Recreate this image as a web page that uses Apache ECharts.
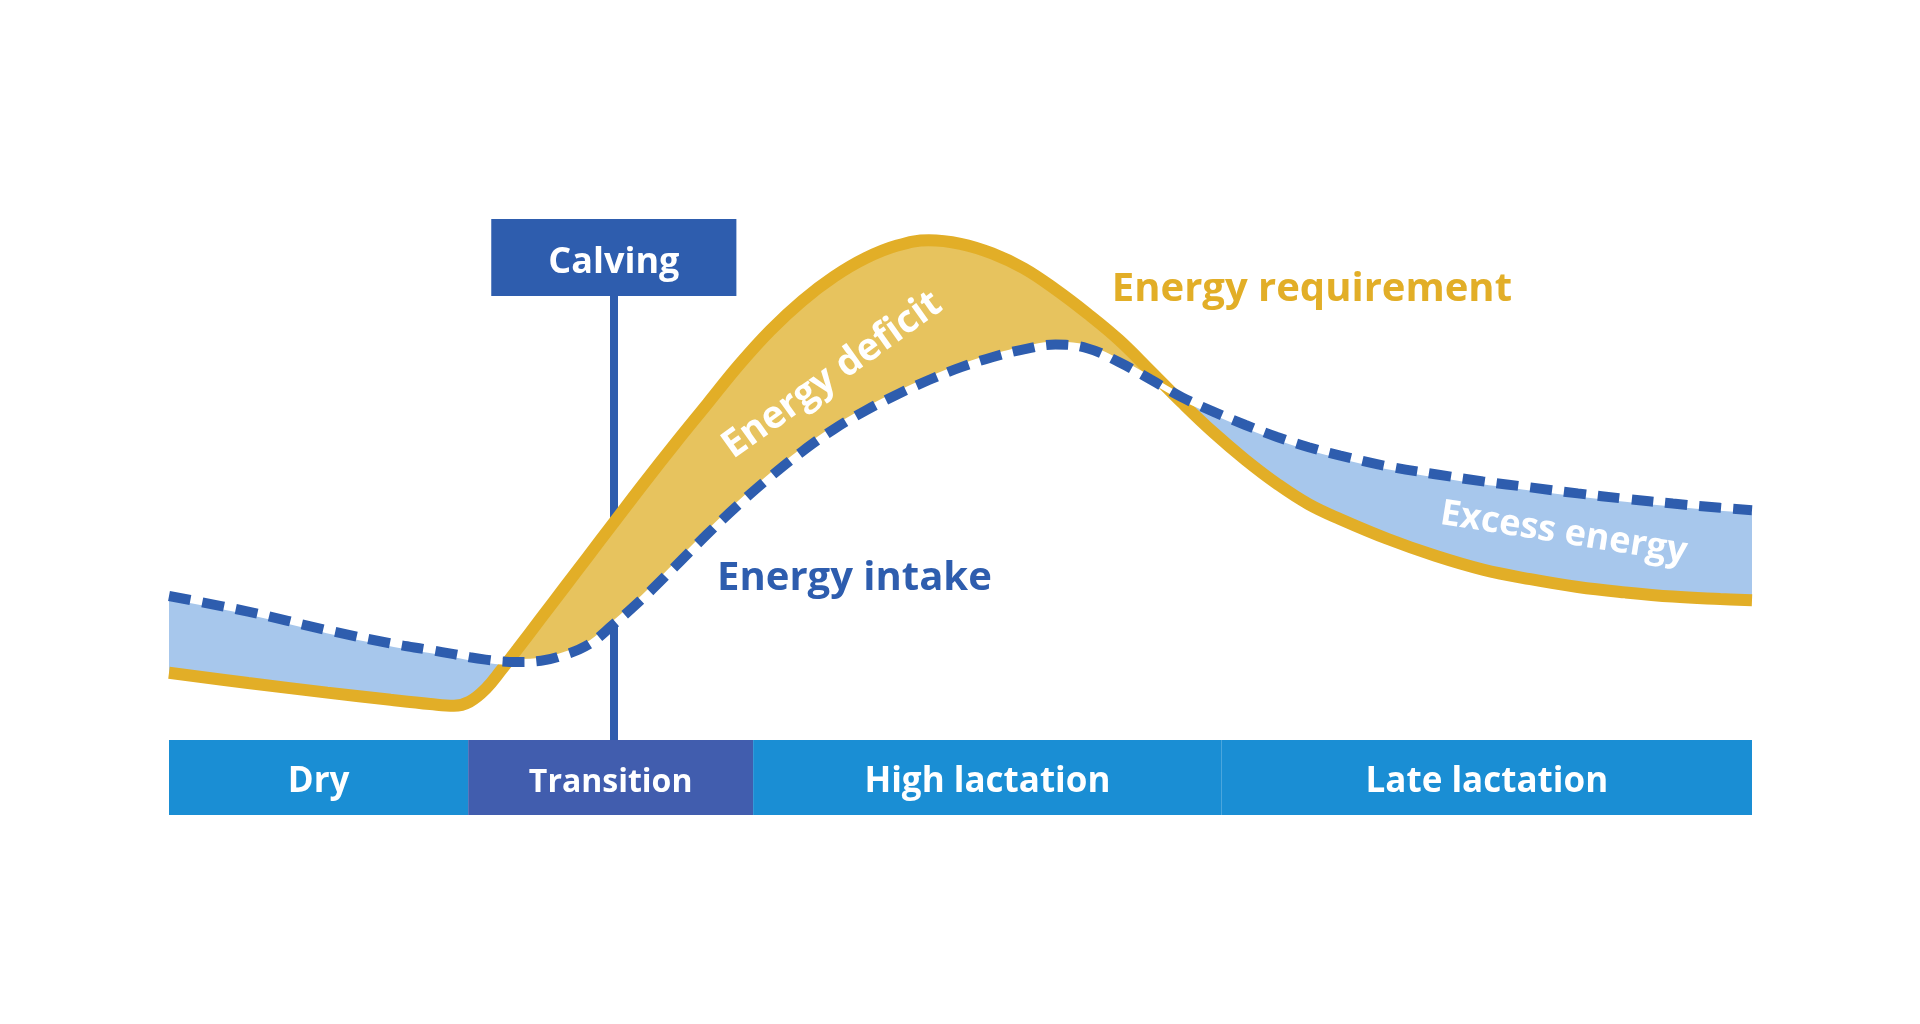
<!DOCTYPE html>
<html>
<head>
<meta charset="utf-8">
<title>Energy requirement vs energy intake</title>
<script src="https://cdn.jsdelivr.net/npm/echarts@6/dist/echarts.min.js"></script>
<style>
  html, body { margin: 0; padding: 0; background: #fff; }
  #chart { width: 1920px; height: 1024px; }
</style>
</head>
<body>
<div id="chart"></div>
<script>
// position along the cycle, 0 = start of dry period, 100 = end of late lactation
const timeline = [0, 5, 10, 14, 16.5, 18, 19, 20, 21, 22, 23.5, 25, 26.5, 28, 30, 32, 34, 36, 38, 40,
  42, 44, 46, 48, 50, 52, 54, 56, 58, 60, 62, 64, 66, 68, 70, 72, 74, 77, 80, 83, 86, 89, 92, 95, 98, 100];
// relative energy level
const requirement = [23.7, 22.0, 20.4, 19.2, 18.5, 18.2, 18.9, 21.0, 24.2, 27.6, 32.8, 38.0, 43.2, 48.4, 55.3, 62.0, 68.5, 75.0, 80.8, 85.7,
  89.7, 92.8, 94.9, 95.8, 95.2, 93.6, 91.1, 87.6, 83.6, 79.2, 74.0, 68.7, 63.7, 59.2, 55.2, 51.8, 49.3, 46.0, 43.2, 40.9, 39.3, 38.0, 37.1, 36.4, 36.0, 35.8];
const intake = [36.5, 33.9, 30.8, 28.6, 27.5, 26.8, 26.3, 25.9, 25.6, 25.5, 25.7, 26.7, 28.4, 31.6, 36.3, 41.5, 46.8, 51.8, 56.4, 60.6,
  64.3, 67.4, 70.1, 72.5, 74.6, 76.3, 77.6, 78.4, 77.8, 75.5, 72.6, 69.6, 67.2, 65.0, 63.0, 61.3, 59.9, 58.1, 56.8, 55.6, 54.6, 53.6, 52.7, 51.9, 51.2, 50.8];

const phaseNames = ['Dry', 'Transition', 'High lactation', 'Late lactation'];
const phaseStart = [0, 18.9, 36.9, 66.5];
const phaseEnd = [18.9, 36.9, 66.5, 100];
const calvingAt = 28.1;
// where the calving line meets the intake and requirement curves
const calvingIntake = 31.8;
const calvingRequirement = 48.6;

const BLUE = '#2E5DAE';
const GOLD = '#E2AE27';
const BAR_TOP = 12.5;
const BOX_BOTTOM = 86.5;

const pairs = (values) => timeline.map((x, i) => [x, values[i]]);
const lowerOfTwo = timeline.map((x, i) => [x, Math.min(requirement[i], intake[i])]);

const textFont = { fontFamily: 'Open Sans', fontWeight: 'bold', textBorderWidth: 0, opacity: 1 };

const chart = echarts.init(document.getElementById('chart'));

chart.setOption({
  animation: false,
  backgroundColor: '#ffffff',
  grid: { left: 169, right: 168, top: 215, bottom: 209 },
  xAxis: { type: 'value', min: 0, max: 100, show: false },
  yAxis: { type: 'value', min: 0, max: 100, show: false },
  series: [
    {
      // deficit fill: everything under the requirement curve
      name: 'Energy deficit',
      type: 'line',
      smooth: 0.4,
      showSymbol: false,
      silent: true,
      z: 1,
      lineStyle: { opacity: 0 },
      areaStyle: { color: '#E7C35E', opacity: 1, origin: 'start' },
      data: pairs(requirement)
    },
    {
      // excess fill: everything under the intake curve
      name: 'Excess energy',
      type: 'line',
      smooth: 0.4,
      showSymbol: false,
      silent: true,
      z: 2,
      lineStyle: { opacity: 0 },
      areaStyle: { color: '#A7C7EC', opacity: 1, origin: 'start' },
      data: pairs(intake)
    },
    {
      // white under the lower of the two curves, leaves only the band between them
      name: 'mask',
      type: 'line',
      smooth: 0.4,
      showSymbol: false,
      silent: true,
      z: 3,
      lineStyle: { opacity: 0 },
      areaStyle: { color: '#ffffff', opacity: 1, origin: 'start' },
      data: lowerOfTwo,
      markLine: {
        silent: true,
        z: 4,
        symbol: ['none', 'none'],
        lineStyle: { color: BLUE, width: 8, type: 'solid' },
        label: { show: false },
        data: [
          [{ xAxis: calvingAt, yAxis: BAR_TOP }, { xAxis: calvingAt, yAxis: calvingIntake }],
          [
            { xAxis: calvingAt, yAxis: calvingRequirement },
            {
              xAxis: calvingAt,
              yAxis: BOX_BOTTOM,
              label: Object.assign({
                show: true,
                position: 'end',
                distance: 0,
                formatter: 'Calving',
                color: '#fff',
                fontSize: 36,
                lineHeight: 43,
                backgroundColor: BLUE,
                padding: [22, 57, 12, 57]
              }, textFont)
            }
          ]
        ]
      },
      markArea: {
        silent: true,
        z: 9,
        label: Object.assign({ show: true, position: 'inside', color: '#fff', fontSize: 35, offset: [0, 5] }, textFont),
        data: phaseNames.map((name, i) => [
          {
            name: name,
            xAxis: phaseStart[i],
            yAxis: 0,
            itemStyle: { color: name === 'Transition' ? '#415DAE' : '#1A8ED4', opacity: 1 },
            label: name === 'Transition' ? { fontSize: 32 } : {}
          },
          { xAxis: phaseEnd[i], yAxis: BAR_TOP }
        ])
      }
    },
    {
      name: 'Energy requirement',
      type: 'line',
      smooth: 0.4,
      showSymbol: false,
      silent: true,
      z: 5,
      lineStyle: { color: GOLD, width: 12, cap: 'butt' },
      data: pairs(requirement)
    },
    {
      name: 'intake-backing',
      type: 'line',
      smooth: 0.4,
      showSymbol: false,
      silent: true,
      z: 6,
      lineStyle: { color: '#ffffff', width: 6 },
      data: pairs(intake)
    },
    {
      name: 'Energy intake',
      type: 'line',
      smooth: 0.4,
      showSymbol: false,
      silent: true,
      z: 7,
      lineStyle: { color: BLUE, width: 10, type: [22, 12], cap: 'butt' },
      data: pairs(intake)
    },
    {
      name: 'notes',
      type: 'scatter',
      symbolSize: 0,
      silent: true,
      z: 8,
      itemStyle: { opacity: 1 },
      label: Object.assign({ show: true, position: 'inside', formatter: '{b}' }, textFont),
      data: [
        { name: 'Energy requirement', value: [72.2, 87.5], label: { color: GOLD, fontSize: 40 } },
        { name: 'Energy intake', value: [43.3, 39.4], label: { color: BLUE, fontSize: 40 } },
        { name: 'Energy deficit', value: [41.9, 73.3], label: { color: '#fff', fontSize: 38, rotate: 35.5 } },
        { name: 'Excess energy', value: [88.1, 47.0], label: { color: '#fff', fontSize: 36, rotate: -9 } }
      ]
    }
  ]
});
</script>
</body>
</html>
